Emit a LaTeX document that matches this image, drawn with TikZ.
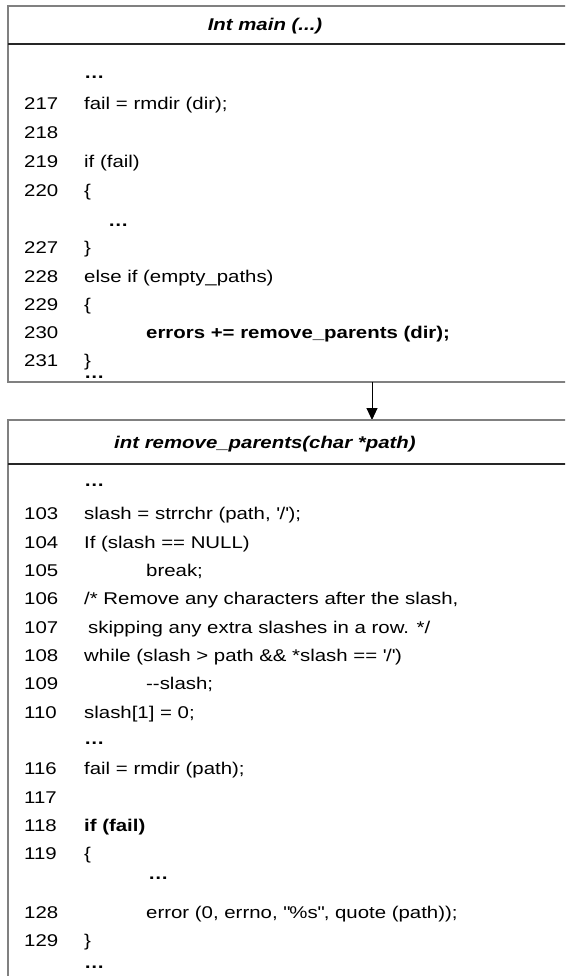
\documentclass[tikz,border=0pt]{standalone}
\usepackage{fontspec}
\setmainfont{Liberation Sans}[FakeStretch=1.2]
\usetikzlibrary{arrows.meta}
\begin{document}
\begin{tikzpicture}[x=1pt,y=-1pt,
  txt/.style={anchor=base west, inner sep=0pt, font=\fontsize{17}{20}\selectfont},
  ttl/.style={anchor=base, inner sep=0pt, font=\fontsize{17}{20}\selectfont\bfseries\itshape},
  frame/.style={draw=black!50, line width=1.6pt},
  sep/.style={draw=black!85, line width=1.2pt},
  conn/.style={draw=black, line width=1pt, -{Triangle[length=12pt,width=11pt]}}]
\useasboundingbox (0,0) rectangle (565,976);
\clip (0,0) rectangle (565,976);
\fill[white] (0,0) rectangle (565,976);
% ---- top box
\draw[frame] (600,6) -- (8,6) -- (8,382) -- (600,382);
\draw[sep] (8,44) -- (600,44);
\node[ttl] (t1) at (265,31) {Int main (...)};
\node[txt] (a0) at (84,79) {\bfseries …};
\node[txt] (n217) at (24,110) {217}; \node[txt] (c217) at (84,110) {fail = rmdir (dir);};
\node[txt] (n218) at (24,139) {218};
\node[txt] (n219) at (24,168) {219}; \node[txt] (c219) at (84,168) {if (fail)};
\node[txt] (n220) at (24,197) {220}; \node[txt] (c220) at (84,197) {\{};
\node[txt] (a1) at (108,226) {\bfseries …};
\node[txt] (n227) at (24,254) {227}; \node[txt] (c227) at (84,254) {\}};
\node[txt] (n228) at (24,282) {228}; \node[txt] (c228) at (84,282) {else if (empty\_paths)};
\node[txt] (n229) at (24,310) {229}; \node[txt] (c229) at (84,310) {\{};
\node[txt] (n230) at (24,338) {230}; \node[txt] (c230) at (146,338) {\bfseries errors += remove\_parents (dir);};
\node[txt] (n231) at (24,366) {231}; \node[txt] (c231) at (84,366) {\}};
\node[txt] (a2) at (84,378) {\bfseries …};
% ---- connector
\coordinate (topbot) at (372,382);
\coordinate (lowtop) at (372,420);
\draw[conn] (topbot) -- (lowtop);
% ---- lower box
\draw[frame] (600,420) -- (8,420) -- (8,990);
\draw[sep] (8,464) -- (600,464);
\node[ttl] (t2) at (265,448) {int remove\_parents(char *path)};
\node[txt] (b0) at (84,486) {\bfseries …};
\node[txt] (n103) at (24,519) {103}; \node[txt] (c103) at (84,519) {slash = strrchr (path, \textquotesingle/\textquotesingle);};
\node[txt] (n104) at (24,548) {104}; \node[txt] (c104) at (84,548) {If (slash == NULL)};
\node[txt] (n105) at (24,576) {105}; \node[txt] (c105) at (146,576) {break;};
\node[txt] (n106) at (24,604) {106}; \node[txt] (c106) at (84,604) {/* Remove any characters after the slash,};
\node[txt] (n107) at (24,633) {107}; \node[txt] (c107) at (88,633) {skipping any extra slashes in a row. */};
\node[txt] (n108) at (24,661) {108}; \node[txt] (c108) at (84,661) {while (slash > path \&\& *slash == \textquotesingle/\textquotesingle)};
\node[txt] (n109) at (24,689) {109}; \node[txt] (c109) at (146,689) {-{}-slash;};
\node[txt] (n110) at (24,718) {110}; \node[txt] (c110) at (84,718) {slash[1] = 0;};
\node[txt] (b1) at (84,744) {\bfseries …};
\node[txt] (n116) at (24,774) {116}; \node[txt] (c116) at (84,774) {fail = rmdir (path);};
\node[txt] (n117) at (24,803) {117};
\node[txt] (n118) at (24,831) {118}; \node[txt] (c118) at (84,831) {\bfseries if (fail)};
\node[txt] (n119) at (24,859) {119}; \node[txt] (c119) at (84,859) {\{};
\node[txt] (b2) at (148,879) {\bfseries …};
\node[txt] (n128) at (24,918) {128}; \node[txt] (c128) at (146,918) {error (0, errno, \textquotedbl\%s\textquotedbl, quote (path));};
\node[txt] (n129) at (24,946) {129}; \node[txt] (c129) at (84,946) {\}};
\node[txt] (b3) at (84,968) {\bfseries …};
\end{tikzpicture}
\end{document}
